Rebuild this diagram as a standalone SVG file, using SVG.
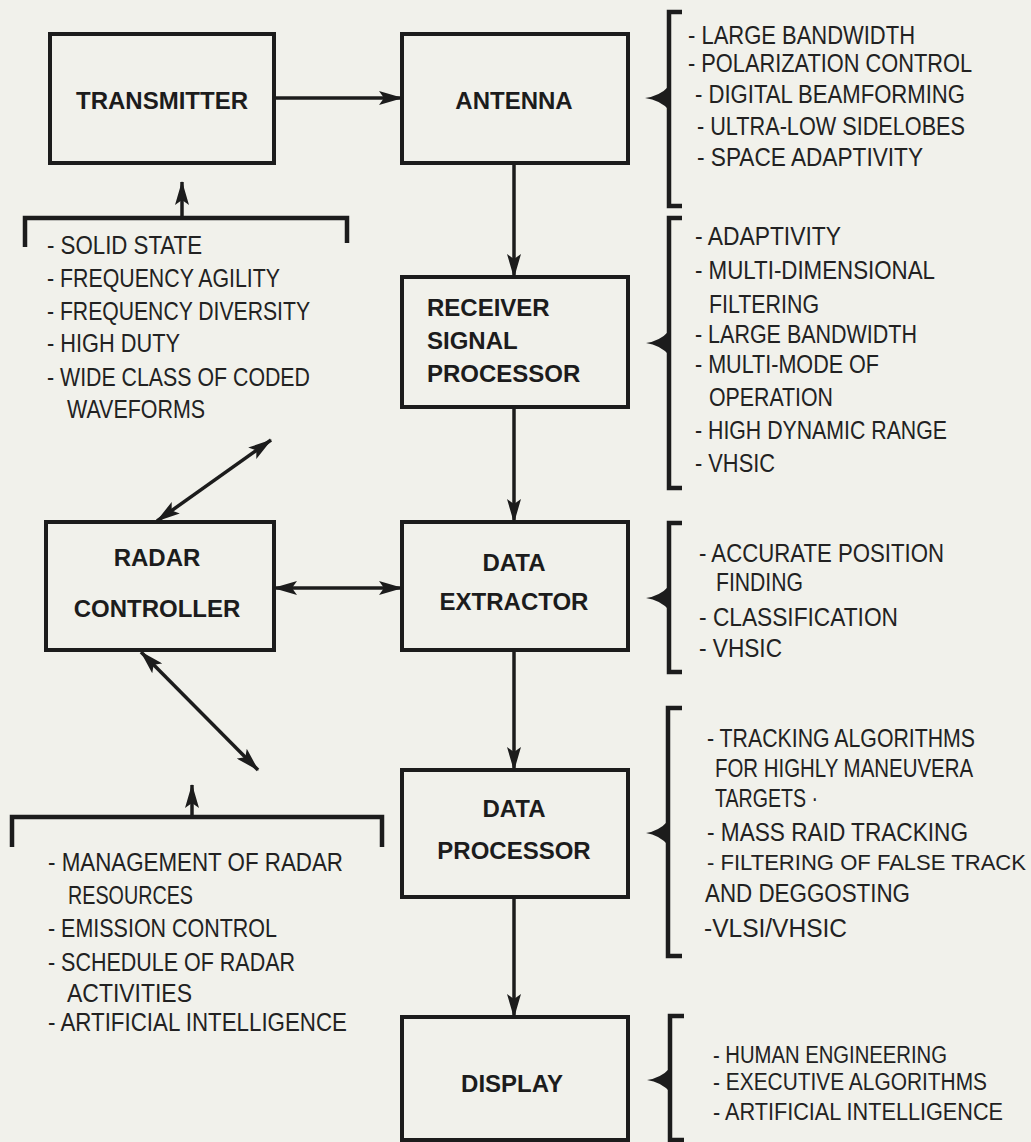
<svg xmlns="http://www.w3.org/2000/svg" width="1031" height="1142" viewBox="0 0 1031 1142">
  <defs>
    <!-- narrow filled arrowhead; reversed at the start for two-way links -->
    <marker id="ah" viewBox="0 0 24 14" refX="23" refY="7" markerWidth="24" markerHeight="14" markerUnits="userSpaceOnUse" orient="auto-start-reverse">
      <path d="M0,0 L24,7 L0,14 L5,7 Z" fill="#1c1c1c"/>
    </marker>
  </defs>
  <style>
    .box{fill:none;stroke:#1c1c1c;stroke-width:4}
    .ln{fill:none;stroke:#1c1c1c;stroke-width:3.5}
    .br{fill:none;stroke:#1c1c1c;stroke-width:4.5;stroke-linejoin:miter}
    .tip{fill:#1c1c1c}
    .lbl{font-family:"Liberation Sans",Arial,sans-serif;font-weight:bold;font-size:24px;fill:#1c1c1c}
    .mid{text-anchor:middle}
    .note{font-family:"Liberation Sans",Arial,sans-serif;font-size:25px;fill:#222}
    .sm{font-size:23px}
    .xs{font-size:22px}
  </style>

  <rect width="1031" height="1142" fill="#f1f1eb"/>

  <!-- ===== blocks ===== -->
  <g id="transmitter">
    <rect class="box" x="50" y="34" width="224" height="129"/>
    <text class="lbl mid" x="162" y="109">TRANSMITTER</text>
  </g>
  <g id="antenna">
    <rect class="box" x="402" y="34" width="226" height="129"/>
    <text class="lbl mid" x="514" y="109">ANTENNA</text>
  </g>
  <g id="receiver-signal-processor">
    <rect class="box" x="402" y="277" width="226" height="130"/>
    <text class="lbl" x="427" y="316">RECEIVER</text>
    <text class="lbl" x="427" y="349">SIGNAL</text>
    <text class="lbl" x="427" y="382">PROCESSOR</text>
  </g>
  <g id="radar-controller">
    <rect class="box" x="46" y="522" width="228" height="128"/>
    <text class="lbl mid" x="157" y="566">RADAR</text>
    <text class="lbl mid" x="157" y="617">CONTROLLER</text>
  </g>
  <g id="data-extractor">
    <rect class="box" x="402" y="522" width="226" height="128"/>
    <text class="lbl mid" x="514" y="571">DATA</text>
    <text class="lbl mid" x="514" y="610">EXTRACTOR</text>
  </g>
  <g id="data-processor">
    <rect class="box" x="402" y="770" width="226" height="127"/>
    <text class="lbl mid" x="514" y="817">DATA</text>
    <text class="lbl mid" x="514" y="859">PROCESSOR</text>
  </g>
  <g id="display">
    <rect class="box" x="402" y="1017" width="226" height="123"/>
    <text class="lbl mid" x="512" y="1092">DISPLAY</text>
  </g>

  <!-- ===== requirement lists ===== -->
  <g id="transmitter-features">
    <path class="br" d="M25,247 V218 H347 V243"/>
    <line class="ln" x1="182" y1="218" x2="182" y2="182" marker-end="url(#ah)"/>
    <text class="note" x="47" y="254" textLength="155" lengthAdjust="spacingAndGlyphs">- SOLID STATE</text>
    <text class="note" x="47" y="287" textLength="233" lengthAdjust="spacingAndGlyphs">- FREQUENCY AGILITY</text>
    <text class="note" x="47" y="320" textLength="263" lengthAdjust="spacingAndGlyphs">- FREQUENCY DIVERSITY</text>
    <text class="note" x="47" y="352" textLength="133" lengthAdjust="spacingAndGlyphs">- HIGH DUTY</text>
    <text class="note" x="47" y="386" textLength="263" lengthAdjust="spacingAndGlyphs">- WIDE CLASS OF CODED</text>
    <text class="note" x="67" y="418" textLength="138" lengthAdjust="spacingAndGlyphs">WAVEFORMS</text>
  </g>

  <g id="antenna-features">
    <path class="br" d="M682,12 H669 V206 H682"/>
    <path class="tip" d="M669,86 Q660,96 645,98 Q660,100 669,110 Z"/>
    <text class="note" x="688" y="44" textLength="227" lengthAdjust="spacingAndGlyphs">- LARGE BANDWIDTH</text>
    <text class="note" x="688" y="72" textLength="284" lengthAdjust="spacingAndGlyphs">- POLARIZATION CONTROL</text>
    <text class="note" x="695" y="103" textLength="270" lengthAdjust="spacingAndGlyphs">- DIGITAL BEAMFORMING</text>
    <text class="note" x="697" y="135" textLength="268" lengthAdjust="spacingAndGlyphs">- ULTRA-LOW SIDELOBES</text>
    <text class="note" x="697" y="166" textLength="226" lengthAdjust="spacingAndGlyphs">- SPACE ADAPTIVITY</text>
  </g>

  <g id="receiver-features">
    <path class="br" d="M682,218 H669 V488 H682"/>
    <path class="tip" d="M669,331 Q660,341 646,343 Q660,345 669,355 Z"/>
    <text class="note" x="695" y="245" textLength="146" lengthAdjust="spacingAndGlyphs">- ADAPTIVITY</text>
    <text class="note" x="695" y="279" textLength="240" lengthAdjust="spacingAndGlyphs">- MULTI-DIMENSIONAL</text>
    <text class="note" x="709" y="313" textLength="110" lengthAdjust="spacingAndGlyphs">FILTERING</text>
    <text class="note" x="695" y="343" textLength="222" lengthAdjust="spacingAndGlyphs">- LARGE BANDWIDTH</text>
    <text class="note" x="695" y="373" textLength="184" lengthAdjust="spacingAndGlyphs">- MULTI-MODE OF</text>
    <text class="note" x="709" y="406" textLength="124" lengthAdjust="spacingAndGlyphs">OPERATION</text>
    <text class="note" x="695" y="439" textLength="252" lengthAdjust="spacingAndGlyphs">- HIGH DYNAMIC RANGE</text>
    <text class="note" x="695" y="472" textLength="80" lengthAdjust="spacingAndGlyphs">- VHSIC</text>
  </g>

  <g id="extractor-features">
    <path class="br" d="M682,523 H669 V672 H682"/>
    <path class="tip" d="M669,586 Q660,596 646,598 Q660,600 669,610 Z"/>
    <text class="note" x="699" y="562" textLength="245" lengthAdjust="spacingAndGlyphs">- ACCURATE POSITION</text>
    <text class="note" x="716" y="591" textLength="87" lengthAdjust="spacingAndGlyphs">FINDING</text>
    <text class="note" x="699" y="626" textLength="199" lengthAdjust="spacingAndGlyphs">- CLASSIFICATION</text>
    <text class="note" x="699" y="657" textLength="83" lengthAdjust="spacingAndGlyphs">- VHSIC</text>
  </g>

  <g id="processor-features">
    <path class="br" d="M682,708 H668 V956 H682"/>
    <path class="tip" d="M668,821 Q659,831 646,833 Q659,835 668,845 Z"/>
    <text class="note" x="707" y="747" textLength="268" lengthAdjust="spacingAndGlyphs">- TRACKING ALGORITHMS</text>
    <text class="note" x="715" y="777" textLength="258" lengthAdjust="spacingAndGlyphs">FOR HIGHLY MANEUVERA</text>
    <text class="note" x="715" y="807" textLength="103" lengthAdjust="spacingAndGlyphs">TARGETS ·</text>
    <text class="note" x="707" y="841" textLength="261" lengthAdjust="spacingAndGlyphs">- MASS RAID TRACKING</text>
    <text class="note xs" x="707" y="870" textLength="319" lengthAdjust="spacingAndGlyphs">- FILTERING OF FALSE TRACK</text>
    <text class="note" x="705" y="902" textLength="205" lengthAdjust="spacingAndGlyphs">AND DEGGOSTING</text>
    <text class="note" x="704" y="937" textLength="143" lengthAdjust="spacingAndGlyphs">-VLSI/VHSIC</text>
  </g>

  <g id="display-features">
    <path class="br" d="M684,1016 H670 V1140 H684"/>
    <path class="tip" d="M670,1068 Q661,1078 647,1080 Q661,1082 670,1092 Z"/>
    <text class="note sm" x="713" y="1063" textLength="234" lengthAdjust="spacingAndGlyphs">- HUMAN ENGINEERING</text>
    <text class="note sm" x="713" y="1090" textLength="274" lengthAdjust="spacingAndGlyphs">- EXECUTIVE ALGORITHMS</text>
    <text class="note sm" x="713" y="1120" textLength="290" lengthAdjust="spacingAndGlyphs">- ARTIFICIAL INTELLIGENCE</text>
  </g>

  <g id="controller-features">
    <path class="br" d="M12,847 V817 H382 V847"/>
    <line class="ln" x1="192" y1="817" x2="192" y2="785" marker-end="url(#ah)"/>
    <text class="note" x="48" y="871" textLength="295" lengthAdjust="spacingAndGlyphs">- MANAGEMENT OF RADAR</text>
    <text class="note" x="68" y="904" textLength="125" lengthAdjust="spacingAndGlyphs">RESOURCES</text>
    <text class="note" x="48" y="937" textLength="229" lengthAdjust="spacingAndGlyphs">- EMISSION CONTROL</text>
    <text class="note" x="48" y="971" textLength="247" lengthAdjust="spacingAndGlyphs">- SCHEDULE OF RADAR</text>
    <text class="note" x="67" y="1002" textLength="125" lengthAdjust="spacingAndGlyphs">ACTIVITIES</text>
    <text class="note" x="48" y="1031" textLength="299" lengthAdjust="spacingAndGlyphs">- ARTIFICIAL INTELLIGENCE</text>
  </g>

  <!-- ===== connectors ===== -->
  <g id="connectors">
    <line class="ln" x1="274" y1="98" x2="402" y2="98" marker-end="url(#ah)"/>
    <line class="ln" x1="514" y1="163" x2="514" y2="277" marker-end="url(#ah)"/>
    <line class="ln" x1="514" y1="407" x2="514" y2="522" marker-end="url(#ah)"/>
    <line class="ln" x1="514" y1="650" x2="514" y2="770" marker-end="url(#ah)"/>
    <line class="ln" x1="514" y1="897" x2="514" y2="1017" marker-end="url(#ah)"/>
    <line class="ln" x1="274" y1="588" x2="402" y2="588" marker-start="url(#ah)" marker-end="url(#ah)"/>
    <line class="ln" x1="157" y1="521" x2="271" y2="440" marker-start="url(#ah)" marker-end="url(#ah)"/>
    <line class="ln" x1="141" y1="652" x2="258" y2="770" marker-start="url(#ah)" marker-end="url(#ah)"/>
  </g>
</svg>
